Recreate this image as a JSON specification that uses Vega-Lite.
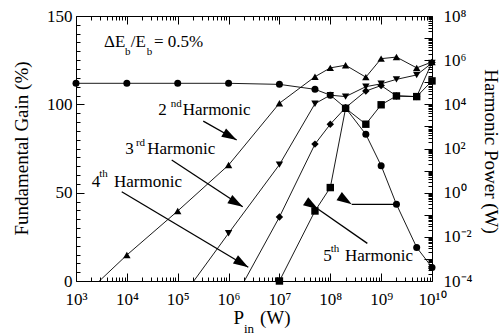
{
  "$schema": "https://vega.github.io/schema/vega-lite/v6.json",
  "width": 356,
  "height": 265,
  "autosize": {"type": "none"},
  "padding": {"left": 76, "top": 16, "right": 70, "bottom": 54},
  "background": "white",
  "config": {
    "view": {"stroke": null},
    "font": "Times New Roman",
    "text": {"font": "Times New Roman"},
    "axis": {
      "grid": false,
      "domainColor": "black",
      "domainWidth": 1,
      "tickColor": "black",
      "tickWidth": 1,
      "labelColor": "black",
      "labelFont": "Times New Roman",
      "labelFontSize": 17,
      "titleFont": "Times New Roman",
      "titleFontSize": 19,
      "titleFontWeight": "normal",
      "titleColor": "black",
      "labelOverlap": false,
      "labelFlush": false,
      "labelBound": false
    }
  },
  "datasets": {
    "gain": [
      {"P_in": 1000, "gain": 111.9},
      {"P_in": 10000, "gain": 111.9},
      {"P_in": 100000, "gain": 111.9},
      {"P_in": 1000000, "gain": 111.9},
      {"P_in": 10000000, "gain": 111.3},
      {"P_in": 50000000, "gain": 108.5},
      {"P_in": 100000000, "gain": 105.2},
      {"P_in": 200000000, "gain": 97.9},
      {"P_in": 500000000, "gain": 83.0},
      {"P_in": 1000000000, "gain": 65.3},
      {"P_in": 2000000000, "gain": 43.4},
      {"P_in": 5000000000, "gain": 19.0},
      {"P_in": 10000000000, "gain": 7.7}
    ],
    "harmonics": [
      {"harmonic": "2nd", "P_in": 1000, "power": 1e-5},
      {"harmonic": "2nd", "P_in": 10000, "power": 0.0015},
      {"harmonic": "2nd", "P_in": 100000, "power": 0.148},
      {"harmonic": "2nd", "P_in": 1000000, "power": 17.8},
      {"harmonic": "2nd", "P_in": 10000000, "power": 11200},
      {"harmonic": "2nd", "P_in": 50000000, "power": 178000},
      {"harmonic": "2nd", "P_in": 100000000, "power": 447000},
      {"harmonic": "2nd", "P_in": 200000000, "power": 590000},
      {"harmonic": "2nd", "P_in": 500000000, "power": 170000},
      {"harmonic": "2nd", "P_in": 1000000000, "power": 1170000},
      {"harmonic": "2nd", "P_in": 2000000000, "power": 1380000},
      {"harmonic": "2nd", "P_in": 5000000000, "power": 447000},
      {"harmonic": "2nd", "P_in": 10000000000, "power": 830000},
      {"harmonic": "3rd", "P_in": 100000, "power": 1e-5},
      {"harmonic": "3rd", "P_in": 1000000, "power": 0.0145},
      {"harmonic": "3rd", "P_in": 10000000, "power": 18.6},
      {"harmonic": "3rd", "P_in": 50000000, "power": 10700},
      {"harmonic": "3rd", "P_in": 100000000, "power": 26000},
      {"harmonic": "3rd", "P_in": 200000000, "power": 22400},
      {"harmonic": "3rd", "P_in": 500000000, "power": 63000},
      {"harmonic": "3rd", "P_in": 1000000000, "power": 85000},
      {"harmonic": "3rd", "P_in": 2000000000, "power": 135000},
      {"harmonic": "3rd", "P_in": 5000000000, "power": 214000},
      {"harmonic": "3rd", "P_in": 10000000000, "power": 740000},
      {"harmonic": "4th", "P_in": 1000000, "power": 5e-6},
      {"harmonic": "4th", "P_in": 10000000, "power": 0.079},
      {"harmonic": "4th", "P_in": 50000000, "power": 158},
      {"harmonic": "4th", "P_in": 100000000, "power": 1260},
      {"harmonic": "4th", "P_in": 200000000, "power": 7080},
      {"harmonic": "4th", "P_in": 500000000, "power": 40000},
      {"harmonic": "4th", "P_in": 1000000000, "power": 71000},
      {"harmonic": "4th", "P_in": 2000000000, "power": 24000},
      {"harmonic": "4th", "P_in": 5000000000, "power": 22400},
      {"harmonic": "4th", "P_in": 10000000000, "power": 790000},
      {"harmonic": "5th", "P_in": 10000000, "power": 0.0001},
      {"harmonic": "5th", "P_in": 50000000, "power": 0.148},
      {"harmonic": "5th", "P_in": 100000000, "power": 1.7},
      {"harmonic": "5th", "P_in": 200000000, "power": 6600},
      {"harmonic": "5th", "P_in": 500000000, "power": 1260},
      {"harmonic": "5th", "P_in": 1000000000, "power": 9550},
      {"harmonic": "5th", "P_in": 2000000000, "power": 24000},
      {"harmonic": "5th", "P_in": 5000000000, "power": 22400},
      {"harmonic": "5th", "P_in": 10000000000, "power": 115000}
    ],
    "arrows": [
      {"target": "2nd", "x": 318000, "y": 90.5, "x2": 1445000, "y2": 79.8},
      {"target": "3rd", "x": 76200, "y": 68.5, "x2": 1900000, "y2": 42.0},
      {"target": "4th", "x": 7930, "y": 50.5, "x2": 2440000, "y2": 7.8},
      {"target": "5th", "x": 535000000, "y": 21.3, "x2": 58100000, "y2": 40.6},
      {"target": "gain", "x": 2000000000, "y": 43.4, "x2": 264000000, "y2": 43.4}
    ],
    "labels": [
      {"x": 3560, "y": 132.3, "text": "ΔE"},
      {"x": 11900, "y": 132.3, "text": "/E"},
      {"x": 34200, "y": 132.3, "text": "= 0.5%"},
      {"x": 41500, "y": 93.7, "text": "2"},
      {"x": 125000, "y": 93.7, "text": "Harmonic"},
      {"x": 9300, "y": 71.7, "text": "3"},
      {"x": 25200, "y": 71.7, "text": "Harmonic"},
      {"x": 2040, "y": 53.4, "text": "4"},
      {"x": 5580, "y": 53.4, "text": "Harmonic"},
      {"x": 73000000, "y": 11.3, "text": "5"},
      {"x": 195000000, "y": 11.3, "text": "Harmonic"}
    ],
    "scripts": [
      {"x": 9180, "y": 127.9, "text": "b"},
      {"x": 24500, "y": 127.9, "text": "b"},
      {"x": 72800, "y": 98.4, "text": "nd"},
      {"x": 15100, "y": 76.4, "text": "rd"},
      {"x": 2870, "y": 58.7, "text": "th"},
      {"x": 102000000, "y": 16.6, "text": "th"}
    ],
    "xtitle": [
      {"x": 1250000, "y": -24.5, "text": "P"},
      {"x": 4150000, "y": -24.5, "text": "(W)"}
    ],
    "xtitlesub": [
      {"x": 2010000, "y": -29.6, "text": "in"}
    ]
  },
  "layer": [
    {
      "resolve": {"axis": {"y": "independent"}},
      "layer": [
        {
          "data": {"name": "gain"},
          "mark": {"type": "line", "color": "black", "strokeWidth": 0.9},
          "encoding": {
            "x": {
              "field": "P_in", "type": "quantitative",
              "scale": {"type": "log", "domain": [1000, 10000000000], "nice": false},
              "axis": {
                "orient": "bottom", "title": null, "tickCount": 100,
                "labelExpr": "abs(log(datum.value)/LN10 - round(log(datum.value)/LN10)) < 1e-6 ? (round(log(datum.value)/LN10) == 10 ? '10¹⁰' : '10' + substring('⁰¹²³⁴⁵⁶⁷⁸⁹', round(log(datum.value)/LN10), round(log(datum.value)/LN10) + 1)) : ''",
                "tickSize": {"condition": {"test": "abs(log(datum.value)/LN10 - round(log(datum.value)/LN10)) < 1e-6", "value": -8}, "value": -4},
                "labelPadding": 18, "labelBaseline": "top"
              }
            },
            "y": {
              "field": "gain", "type": "quantitative",
              "scale": {"domain": [0, 150], "nice": false},
              "axis": {
                "orient": "left", "title": "Fundamental Gain (%)",
                "values": [0, 50, 100, 150],
                "tickSize": -8,
                "labelPadding": 12,
                "titleAngle": -90, "titleX": -49, "titleY": 132, "titleBaseline": "alphabetic", "titleAlign": "center"
              }
            }
          }
        },
        {
          "data": {"name": "gain"},
          "mark": {"type": "point", "shape": "circle", "filled": true, "color": "black", "size": 49, "opacity": 1},
          "encoding": {
            "x": {"field": "P_in", "type": "quantitative", "scale": {"type": "log", "domain": [1000, 10000000000], "nice": false}},
            "y": {
              "field": "gain", "type": "quantitative", "scale": {"domain": [0, 150], "nice": false},
              "axis": {
                "orient": "left", "title": null, "labels": false, "domain": false, "tickSize": -4,
                "values": [5,10,15,20,25,30,35,40,45,55,60,65,70,75,80,85,90,95,105,110,115,120,125,130,135,140,145]
              }
            }
          }
        },
        {
          "data": {"name": "arrows"},
          "mark": {"type": "rule", "color": "black", "strokeWidth": 1.3},
          "encoding": {
            "x": {"field": "x", "type": "quantitative", "scale": {"type": "log", "domain": [1000, 10000000000], "nice": false}},
            "x2": {"field": "x2"},
            "y": {"field": "y", "type": "quantitative", "scale": {"domain": [0, 150], "nice": false}, "axis": null},
            "y2": {"field": "y2"}
          }
        },
        {
          "data": {"name": "arrows"},
          "mark": {"type": "point", "shape": "M0,0L0.68,2.1L-0.68,2.1Z", "filled": true, "color": "black", "size": 204, "opacity": 1, "strokeWidth": 0},
          "encoding": {
            "x": {"field": "x2", "type": "quantitative", "scale": {"type": "log", "domain": [1000, 10000000000], "nice": false}},
            "y": {"field": "y2", "type": "quantitative", "scale": {"domain": [0, 150], "nice": false}, "axis": null},
            "angle": {"field": "target", "type": "nominal", "scale": {"domain": ["2nd", "3rd", "4th", "5th", "gain"], "range": [119.6, 123.3, 120.8, 304.8, 270]}, "legend": null}
          }
        },
        {
          "data": {"name": "labels"},
          "mark": {"type": "text", "align": "left", "baseline": "alphabetic", "fontSize": 17, "color": "black", "font": "Times New Roman"},
          "encoding": {
            "x": {"field": "x", "type": "quantitative", "scale": {"type": "log", "domain": [1000, 10000000000], "nice": false}},
            "y": {"field": "y", "type": "quantitative", "scale": {"domain": [0, 150], "nice": false}, "axis": null},
            "text": {"field": "text"}
          }
        },
        {
          "data": {"name": "scripts"},
          "mark": {"type": "text", "align": "left", "baseline": "alphabetic", "fontSize": 11, "color": "black", "font": "Times New Roman"},
          "encoding": {
            "x": {"field": "x", "type": "quantitative", "scale": {"type": "log", "domain": [1000, 10000000000], "nice": false}},
            "y": {"field": "y", "type": "quantitative", "scale": {"domain": [0, 150], "nice": false}, "axis": null},
            "text": {"field": "text"}
          }
        },
        {
          "data": {"name": "xtitle"},
          "mark": {"type": "text", "align": "left", "baseline": "alphabetic", "fontSize": 19, "color": "black", "font": "Times New Roman"},
          "encoding": {
            "x": {"field": "x", "type": "quantitative", "scale": {"type": "log", "domain": [1000, 10000000000], "nice": false}},
            "y": {"field": "y", "type": "quantitative", "scale": {"domain": [0, 150], "nice": false}, "axis": null},
            "text": {"field": "text"}
          }
        },
        {
          "data": {"name": "xtitlesub"},
          "mark": {"type": "text", "align": "left", "baseline": "alphabetic", "fontSize": 13, "color": "black", "font": "Times New Roman"},
          "encoding": {
            "x": {"field": "x", "type": "quantitative", "scale": {"type": "log", "domain": [1000, 10000000000], "nice": false}},
            "y": {"field": "y", "type": "quantitative", "scale": {"domain": [0, 150], "nice": false}, "axis": null},
            "text": {"field": "text"}
          }
        }
      ]
    },
    {
      "layer": [
        {
          "data": {"name": "harmonics"},
          "mark": {"type": "line", "color": "black", "strokeWidth": 0.9, "clip": true},
          "encoding": {
            "x": {
              "field": "P_in", "type": "quantitative",
              "scale": {"type": "log", "domain": [1000, 10000000000], "nice": false},
              "axis": {
                "orient": "top", "title": null, "labels": false, "tickCount": 100,
                "tickSize": {"condition": {"test": "abs(log(datum.value)/LN10 - round(log(datum.value)/LN10)) < 1e-6", "value": -8}, "value": -4}
              }
            },
            "y": {
              "field": "power", "type": "quantitative",
              "scale": {"type": "log", "domain": [0.0001, 100000000], "nice": false},
              "axis": {
                "orient": "right", "title": "Harmonic Power (W)", "tickCount": 200,
                "labelExpr": "abs(log(datum.value)/LN10 - round(log(datum.value)/LN10)) < 1e-6 && round(log(datum.value)/LN10) % 2 == 0 ? (round(log(datum.value)/LN10) < 0 ? '10⁻' + substring('⁰¹²³⁴⁵⁶⁷⁸⁹', -round(log(datum.value)/LN10), -round(log(datum.value)/LN10) + 1) : '10' + substring('⁰¹²³⁴⁵⁶⁷⁸⁹', round(log(datum.value)/LN10), round(log(datum.value)/LN10) + 1)) : ''",
                "tickSize": {"condition": {"test": "abs(log(datum.value)/LN10 - round(log(datum.value)/LN10)) < 1e-6", "value": -8}, "value": -4},
                "labelPadding": 19,
                "titleAngle": 90, "titleX": 52, "titleY": 135, "titleBaseline": "alphabetic", "titleAlign": "center"
              }
            },
            "detail": {"field": "harmonic", "type": "nominal"}
          }
        },
        {
          "data": {"name": "harmonics"},
          "transform": [{"filter": "datum.power >= 0.0001"}],
          "mark": {"type": "point", "filled": true, "color": "black", "opacity": 1},
          "encoding": {
            "x": {"field": "P_in", "type": "quantitative", "scale": {"type": "log", "domain": [1000, 10000000000], "nice": false}},
            "y": {"field": "power", "type": "quantitative", "scale": {"type": "log", "domain": [0.0001, 100000000], "nice": false}},
            "shape": {"field": "harmonic", "type": "nominal", "scale": {"domain": ["2nd", "3rd", "4th", "5th"], "range": ["triangle-up", "triangle-down", "diamond", "square"]}, "legend": null},
            "size": {"field": "harmonic", "type": "nominal", "scale": {"domain": ["2nd", "3rd", "4th", "5th"], "range": [55, 55, 64, 40]}, "legend": null}
          }
        }
      ]
    }
  ],
  "resolve": {"scale": {"y": "independent"}, "axis": {"x": "independent"}}
}
